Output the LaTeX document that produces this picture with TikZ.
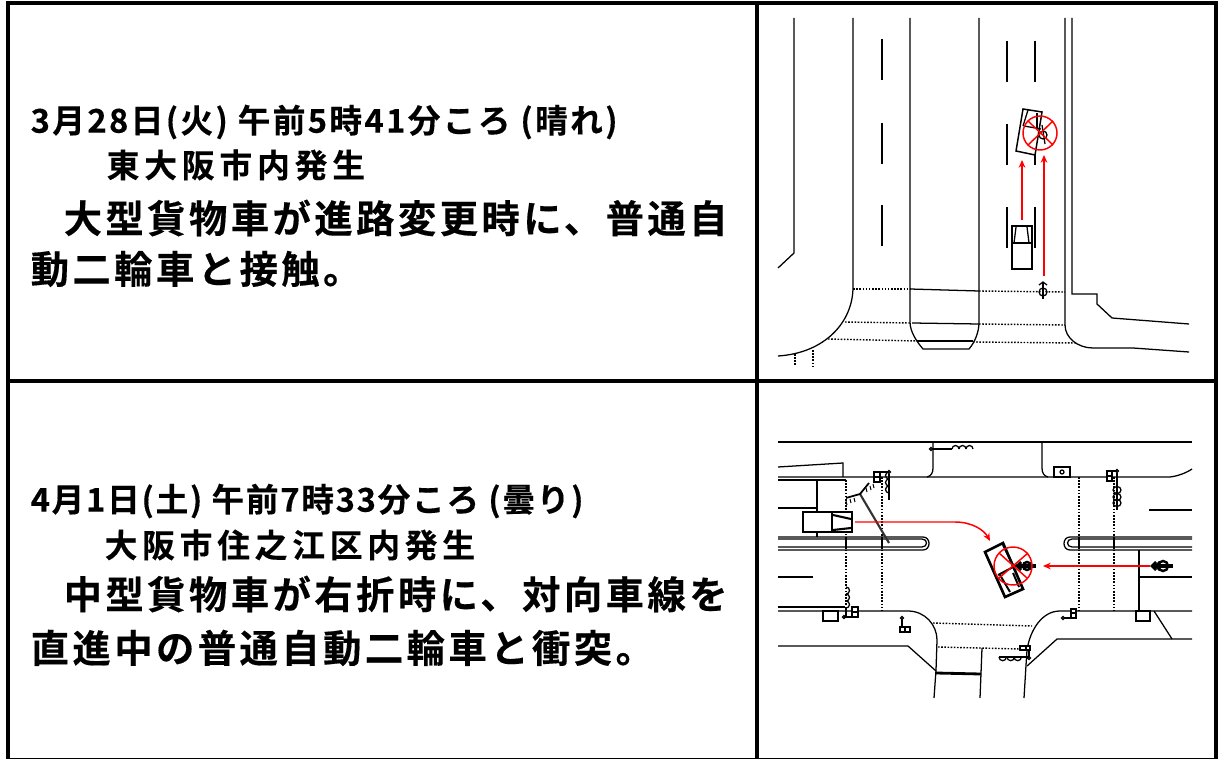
\documentclass[tikz,border=0pt]{standalone}
\usepackage{fontspec}
\usepackage{xcolor}
\usetikzlibrary{arrows.meta}
\newfontfamily\jpfont[FakeBold=0.35]{Noto Sans CJK JP Bold}
\tikzset{
    frameline/.style={line width=1.1pt, draw=black},
    roadline/.style={line width=0.36pt},
    markline/.style={line width=0.8pt},
    dotline/.style={line width=0.4pt, dash pattern=on 0.45pt off 0.45pt},
    moveline/.style={red, line width=0.42pt, -{Stealth[length=2.2pt,width=1.9pt]}},
    hitline/.style={red, line width=0.42pt},
    smallbox/.style={fill=white, line width=0.3pt},
    smalltext/.style={anchor=west, inner sep=0pt, font=\jpfont\fontsize{9.3pt}{9.3pt}\selectfont},
    bigtext/.style={anchor=west, inner sep=0pt, font=\jpfont\fontsize{10.9pt}{10.9pt}\selectfont\addfontfeature{LetterSpace=9}},
}
\begin{document}
\begin{tikzpicture}[x=0.01cm, y=-0.01cm]
    \useasboundingbox (0,0) rectangle (1222,758);

    % Table frame
    \draw[frameline] (8,3) rectangle (1216,760);
    \draw[frameline] (8,381) -- (1216,381);
    \draw[frameline] (757,3) -- (757,760);

    % Texts of the first case
    \node[smalltext] (dateA) at (30,122) {\addfontfeature{LetterSpace=7.2}3月28日(火) 午前5時41分ころ (晴れ)};
    \node[smalltext] (placeA) at (106,165) {\addfontfeature{LetterSpace=15}東大阪市内発生};
    \node[bigtext] (storyA) at (63,218) {大型貨物車が進路変更時に、普通自};
    \node[bigtext] (storyAb) at (30,269) {動二輪車と接触。};

    % Texts of the second case
    \node[smalltext] (dateB) at (30,501) {\addfontfeature{LetterSpace=5.2}4月1日(土) 午前7時33分ころ (曇り)};
    \node[smalltext] (placeB) at (104,545) {\addfontfeature{LetterSpace=14.7}大阪市住之江区内発生};
    \node[bigtext] (storyB) at (63,594) {中型貨物車が右折時に、対向車線を};
    \node[bigtext] (storyBb) at (30,648) {直進中の普通自動二輪車と衝突。};

    % First road plan
    \draw[roadline] (794,18) -- (794,253) -- (778,268);
    \draw[roadline] (853,18) -- (853,287) .. controls (853,322) and (825,353) .. (778,356);
    \draw[roadline] (910,18) -- (910,322) .. controls (910,332) and (917,342) .. (923,349) -- (969,349) .. controls (975,342) and (979,332) .. (979,322) -- (979,18);
    \draw[roadline] (910,289) -- (979,291);
    \draw[roadline] (912,323) -- (979,324);
    \draw[roadline] (917,341) -- (973,341);
    \draw[roadline] (1065,18) -- (1065,325) .. controls (1065,338) and (1078,348) .. (1093,348) -- (1133,348) -- (1189,352);
    \draw[roadline] (1072,18) -- (1072,294) -- (1097,294) -- (1097,304) -- (1112,318) -- (1189,324);
    \draw[dotline] (853,289) -- (910,289);
    \draw[dotline] (979,291) -- (1065,292);
    \draw[dotline] (845,322) -- (910,323);
    \draw[dotline] (979,324) -- (1065,325);
    \draw[dotline] (828,339) -- (917,341);
    \draw[dotline] (973,342) -- (1077,343);
    \draw[dotline] (795,354) -- (795,365);
    \draw[dotline] (813,350) -- (813,366);

    % Lane marks
    \foreach \y in {39,123,205} {
        \draw[roadline] (882,\y) -- (882,\y+41);
    }
    \foreach \y in {41,124,207} {
        \draw[roadline] (1007,\y) -- (1007,\y+41);
        \draw[roadline] (1035,\y) -- (1035,\y+41);
    }

    % Truck and motorcycle before and at the contact
    \draw[fill=white, line width=0.42pt] (1012,226) rectangle (1032,269);
    \draw[roadline] (1012,243) -- (1032,243);
    \draw[roadline] (1016,227) -- (1014,243);
    \draw[roadline] (1027,227) -- (1029,243);
    \draw[roadline] (1043,292) circle (4);
    \draw[roadline] (1043,282) -- (1043,299);
    \draw[roadline] (1039,285) -- (1043,282) -- (1047,285);
    \draw[fill=white, line width=0.42pt] (1023,109) -- (1042,112) -- (1035,155) -- (1016,151) -- cycle;
    \draw[roadline] (1024,126) -- (1041,129);
    \draw[roadline] (1023,126) -- (1028,110);
    \draw[roadline] (1037,113) -- (1037,128);
    \draw[roadline] (1043,135) circle (4);
    \draw[roadline] (1042,125) -- (1045,144);
    \draw[hitline] (1040,133) circle (17);
    \draw[hitline] (1028,121) -- (1053,145);
    \draw[hitline] (1028,145) -- (1053,121);

    \coordinate (truckA) at (1022,220);
    \coordinate (truckAend) at (1022,160);
    \coordinate (bikeA) at (1044,276);
    \coordinate (bikeAend) at (1044,155);
    \draw[moveline] (truckA) -- (truckAend);
    \draw[moveline] (bikeA) -- (bikeAend);

    % Second road plan
    \draw[roadline] (778,442) -- (1192,442);
    \draw[roadline] (778,477) -- (1170,477) .. controls (1178,476) and (1186,473) .. (1192,469);
    \draw[roadline] (778,480) -- (846,480);
    \draw[roadline] (778,467) -- (843,463) -- (843,477);
    \draw[roadline] (933,442) -- (933,468) .. controls (933,473) and (931,476) .. (927,477);
    \draw[roadline] (1042,442) -- (1042,468) .. controls (1042,473) and (1044,476) .. (1048,477);
    \draw[smallbox] (1054,467) rectangle (1070,477);
    \draw[roadline] (1062,472) circle (2);
    \draw[markline] (817,480) -- (817,512);
    \draw[markline] (817,533) -- (817,537);
    \draw[roadline] (778,508) -- (817,508);
    \draw[roadline] (778,577) -- (813,577);
    \draw[roadline] (1149,510) -- (1192,510);
    \draw[roadline] (1140,577) -- (1192,577);

    % Medians
    \draw[roadline] (778,537) -- (923,537) .. controls (931,537) and (931,550) .. (923,550) -- (778,550);
    \draw[roadline] (778,539) -- (922,539) .. controls (928,539) and (928,547) .. (922,547) -- (778,547);
    \draw[roadline] (1192,537) -- (1070,537) .. controls (1062,537) and (1062,550) .. (1070,550) -- (1192,550);
    \draw[roadline] (1192,539) -- (1072,539) .. controls (1066,539) and (1066,547) .. (1072,547) -- (1192,547);

    % Lower kerbs
    \draw[roadline] (778,607) -- (845,607);
    \draw[roadline] (778,611) -- (908,611) .. controls (925,611) and (937,625) .. (937,640) -- (936,670) -- (934,698);
    \draw[roadline] (778,646) -- (908,646) -- (936,671);
    \draw[markline] (936,673) -- (981,674);
    \draw[roadline] (982,648) -- (980,698);
    \draw[roadline] (1192,611) -- (1060,611) .. controls (1042,611) and (1030,630) .. (1027,650) -- (1026,665) -- (1024,698);
    \draw[roadline] (1192,639) -- (1057,639) -- (1027,666);
    \draw[roadline] (1154,611) -- (1172,639);
    \draw[markline] (1139,550) -- (1139,611);
    \draw[smallbox] (823,611) rectangle (838,621);
    \draw[smallbox] (1136,611) rectangle (1150,621);

    % Crossings
    \foreach \x/\top in {846/480,882/477,1079/477,1114/477} {
        \draw[dotline] (\x,\top) -- (\x,610);
        \draw[roadline] (\x,537) -- (\x,549);
    }
    \draw[dotline] (933,623) -- (1032,626);
    \draw[dotline] (938,647) -- (1020,649);

    % Signals
    \draw[roadline] (931,449) circle (1.5);
    \draw[roadline] (932,449) -- (952,449);
    \foreach \x in {952,959,966} {
        \draw[roadline] (\x,449) arc[start angle=180, end angle=360, radius=3.5];
    }
    \draw[smallbox] (874,472) rectangle (880,482);
    \draw[smallbox] (874,477) -- (880,477);
    \draw[roadline] (880,472) -- (889,472);
    \draw[roadline] (889,472) circle (1.5);
    \draw[roadline] (889,474) -- (889,500);
    \foreach \y in {479,486,493} {
        \draw[roadline] (889,\y) arc[start angle=90, end angle=270, radius=3.5];
    }
    \draw[smallbox] (1107,471) rectangle (1112,481);
    \draw[smallbox] (1107,476) -- (1112,476);
    \draw[roadline] (1112,471) -- (1117,471);
    \draw[roadline] (1117,471) circle (1.5);
    \draw[roadline] (1117,473) -- (1117,510);
    \foreach \y in {490,497,503} {
        \draw[roadline] (1117,\y) circle[x radius=4, y radius=3.5];
    }
    \foreach \y in {587,594,601} {
        \draw[roadline] (846,\y) arc[start angle=-90, end angle=90, radius=3.5];
    }
    \draw[roadline] (844,617) -- (852,617);
    \draw[roadline] (844,617) circle (1.5);
    \draw[roadline] (846,608) -- (846,617);
    \draw[smallbox] (852,607) rectangle (858,617);
    \draw[smallbox] (852,612) -- (858,612);
    \draw[roadline] (902,618) circle (1.5);
    \draw[roadline] (902,619) -- (902,627);
    \draw[smallbox] (900,627) rectangle (910,632);
    \draw[smallbox] (905,627) -- (905,632);
    \draw[smallbox] (1020,646) rectangle (1030,650);
    \draw[smallbox] (1026,646) -- (1026,650);
    \draw[roadline] (1029,650) -- (1029,657);
    \draw[roadline] (1029,658) circle (1.5);
    \foreach \x in {999,1007,1014} {
        \draw[roadline] (\x,657) arc[start angle=180, end angle=0, radius=3.7];
    }
    \draw[roadline] (999,657) -- (1029,657);
    \draw[roadline] (1063,618) circle (1.5);
    \draw[roadline] (1064,618) -- (1071,618);
    \draw[smallbox] (1071,609) rectangle (1076,618);
    \draw[smallbox] (1071,613) -- (1076,613);

    % Fallen tree
    \draw[line width=0.6pt, black!80] (889,543) -- (860,494);
    \draw[line width=0.5pt] (846,498) -- (860,494) -- (869,483);
    \foreach \a/\b in {846/501,850/499,854/498,866/488,870/486,873/484} {
        \draw[line width=0.3pt] (\a,\b) -- (\a+1,\b+4);
    }

    % Truck and motorcycle before and at the crash
    \draw[fill=white, line width=0.8pt] (803,512) rectangle (852,532);
    \draw[line width=0.8pt] (832,512) -- (832,532);
    \draw[line width=0.6pt] (833,515) -- (851,519);
    \draw[line width=0.6pt] (833,530) -- (851,528);
    \draw[line width=0.9pt] (1152,566) -- (1173,566);
    \draw[line width=0.7pt] (1163,566) circle (5);
    \draw[line width=0.8pt] (1156,562) -- (1152,566) -- (1156,570);
    \draw[line width=0.8pt] (1160,562) -- (1156,566) -- (1160,570);

    \draw[fill=white, line width=0.75pt] (985,552) -- (1003,543) -- (1023,589) -- (1005,597) -- cycle;
    \draw[line width=0.55pt] (998,575) -- (1017,565);
    \draw[line width=0.55pt] (1003,545) -- (1013,565);
    \draw[line width=0.55pt] (1019,587) -- (1013,573);
    \draw[line width=0.55pt] (1010,592) -- (1000,575);
    \draw[line width=0.9pt] (1017,566) -- (1036,566);
    \draw[line width=0.7pt] (1027,566) circle (4);
    \draw[line width=0.8pt] (1021,562) -- (1017,566) -- (1021,570);
    \draw[hitline] (1013,566) circle (19);
    \draw[hitline] (999,553) -- (1027,578);
    \draw[hitline] (999,578) -- (1028,553);

    \coordinate (truckB) at (855,522);
    \coordinate (truckBend) at (990,541);
    \coordinate (bikeB) at (1150,566);
    \coordinate (bikeBend) at (1043,566);
    \draw[moveline] (truckB) -- (955,522) .. controls (972,522) and (984,530) .. (truckBend);
    \draw[moveline] (bikeB) -- (bikeBend);
\end{tikzpicture}
\end{document}
